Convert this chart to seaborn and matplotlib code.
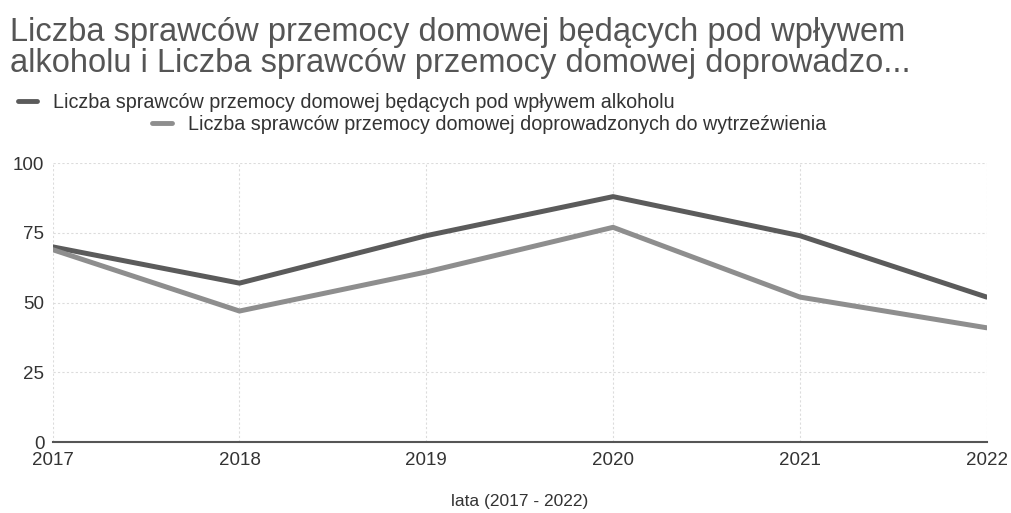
import pandas as pd
import matplotlib
matplotlib.use("Agg")
import matplotlib.pyplot as plt
from matplotlib.lines import Line2D
import seaborn as sns

years = [2017, 2018, 2019, 2020, 2021, 2022]
pod_wplywem = [70, 57, 74, 88, 74, 52]
do_wytrzezwienia = [69, 47, 61, 77, 52, 41]
y_ticks = [0, 25, 50, 75, 100]

name_a = "Liczba sprawców przemocy domowej będących pod wpływem alkoholu"
name_b = "Liczba sprawców przemocy domowej doprowadzonych do wytrzeźwienia"
title = ("Liczba sprawców przemocy domowej będących pod wpływem\n"
         "alkoholu i Liczba sprawców przemocy domowej doprowadzo...")

color_a = "#5b5b5b"
color_b = "#8e8e8e"

sns.set_style("white")
plt.rcParams['font.family'] = ['Liberation Sans', 'DejaVu Sans']

df = pd.DataFrame({"rok": years, name_a: pod_wplywem, name_b: do_wytrzezwienia})

fig = plt.figure(figsize=(10.12, 5.13), dpi=100)
ax = fig.add_axes([0.052, 0.138, 0.923, 0.544])

sns.lineplot(data=df, x="rok", y=name_a, color=color_a, linewidth=3.6, ax=ax)
sns.lineplot(data=df, x="rok", y=name_b, color=color_b, linewidth=3.6, ax=ax)

ax.set_xlim(years[0], years[-1])
ax.set_ylim(0, 100)
ax.set_xticks(years)
ax.set_yticks(y_ticks)
ax.tick_params(length=0, labelsize=13.5, colors="#333333")
ax.tick_params(axis="x", pad=7)
ax.tick_params(axis="y", pad=6)
ax.grid(True, color="#dcdcdc", linestyle=(0, (2, 2)), linewidth=0.8)
for s in ["top", "right", "left"]:
    ax.spines[s].set_visible(False)
ax.spines["bottom"].set_color("#555555")
ax.spines["bottom"].set_linewidth(1.5)
ax.set_ylabel("")
ax.set_xlabel("lata (2017 - 2022)", fontsize=12.5, color="#333333", labelpad=18)

fig.text(0.01, 0.967, title, fontsize=23.5, color="#555555", va="top", ha="left",
         linespacing=1.0)

h_a = Line2D([], [], color=color_a, linewidth=3.5)
h_b = Line2D([], [], color=color_b, linewidth=3.5)
leg1 = fig.legend([h_a], [name_a], loc="center left", bbox_to_anchor=(0.0, 0.80),
                  frameon=False, fontsize=14.2, handlelength=1.0, handletextpad=0.8)
leg2 = fig.legend([h_b], [name_b], loc="center left", bbox_to_anchor=(0.133, 0.757),
                  frameon=False, fontsize=14.2, handlelength=1.0, handletextpad=0.8)
for leg in (leg1, leg2):
    for t in leg.get_texts():
        t.set_color("#333333")

fig.savefig("out.png", dpi=100)
